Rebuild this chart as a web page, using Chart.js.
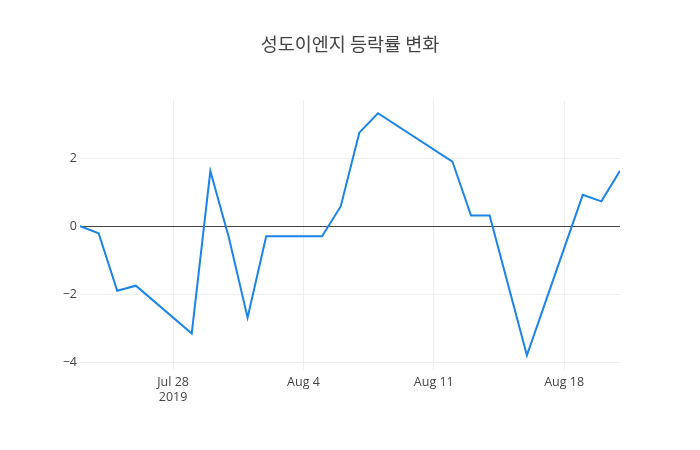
<!DOCTYPE html>
<html>
<head>
<meta charset="utf-8">
<script src="https://cdn.jsdelivr.net/npm/chart.js@4/dist/chart.umd.min.js"></script>
<style>
  html, body { margin: 0; padding: 0; background: #fff; }
  #wrap { width: 700px; height: 450px; position: relative; }
</style>
</head>
<body>
<div id="wrap"><canvas id="myChart"></canvas></div>
<script>
// 성도이엔지 daily change (%)
var titleText = '성도이엔지 등락률 변화';
var dates = ['2019-07-23', '2019-07-24', '2019-07-25', '2019-07-26', '2019-07-29', '2019-07-30',
             '2019-07-31', '2019-08-01', '2019-08-02', '2019-08-05', '2019-08-06', '2019-08-07',
             '2019-08-08', '2019-08-12', '2019-08-13', '2019-08-14', '2019-08-16', '2019-08-19',
             '2019-08-20', '2019-08-21'];
var changes = [0, -0.21, -1.90, -1.75, -3.16, 1.62,
               -0.35, -2.69, -0.30, -0.30, 0.58, 2.75,
               3.32, 1.90, 0.31, 0.31, -3.80, 0.92,
               0.73, 1.63];
var tickDates = ['2019-07-28', '2019-08-04', '2019-08-11', '2019-08-18'];
var tickLabels = [['Jul 28', '2019'], 'Aug 4', 'Aug 11', 'Aug 18'];
var yTicks = [-4, -2, 0, 2];

var startDay = Date.UTC(2019, 6, 23);
function dayNum(s) {
    var p = s.split('-');
    return (Date.UTC(+p[0], +p[1] - 1, +p[2]) - startDay) / 86400000;
}

var points = dates.map(function(d, i) { return { x: dayNum(d), y: changes[i] }; });
var xTickVals = tickDates.map(dayNum);

var titlePlugin = {
    id: 'plotTitle',
    afterDraw: function(chart) {
        var c = chart.ctx;
        c.save();
        c.font = '18.5px "Noto Sans CJK KR", "Open Sans", sans-serif';
        c.fillStyle = '#444';
        c.textAlign = 'center';
        c.textBaseline = 'middle';
        c.fillText(titleText, 350, 44);
        c.restore();
    }
};

var ctx = document.getElementById('myChart').getContext('2d');
var myChart = new Chart(ctx, {
    type: 'line',
    data: {
        datasets: [{
            data: points,
            borderColor: '#1a84e8',
            borderWidth: 2,
            pointRadius: 0,
            tension: 0,
            fill: false
        }]
    },
    options: {
        responsive: true,
        maintainAspectRatio: false,
        animation: false,
        layout: { padding: { top: 100, right: 80, left: 0, bottom: 0 } },
        plugins: {
            legend: { display: false },
            tooltip: { enabled: false }
        },
        scales: {
            x: {
                type: 'linear',
                min: 0,
                max: dayNum('2019-08-21'),
                afterBuildTicks: function(scale) {
                    scale.ticks = xTickVals.map(function(v) { return { value: v }; });
                },
                afterFit: function(scale) { scale.height = 80; },
                border: { display: false },
                grid: { color: '#eee', lineWidth: 1, drawTicks: false },
                ticks: {
                    color: '#444',
                    font: { family: '"Open Sans", sans-serif', size: 12.5 },
                    padding: 5,
                    maxRotation: 0,
                    callback: function(value) {
                        var i = xTickVals.indexOf(value);
                        return i >= 0 ? tickLabels[i] : '';
                    }
                }
            },
            y: {
                min: -4.23,
                max: 3.71,
                afterBuildTicks: function(scale) {
                    scale.ticks = yTicks.map(function(v) { return { value: v }; });
                },
                afterFit: function(scale) { scale.width = 80; },
                border: { display: false },
                grid: {
                    drawTicks: false,
                    color: function(c) { return c.tick && c.tick.value === 0 ? '#444' : '#eee'; },
                    lineWidth: 1
                },
                ticks: {
                    color: '#444',
                    font: { family: '"Open Sans", sans-serif', size: 12.5 },
                    padding: 3,
                    callback: function(value) {
                        return value < 0 ? '\u2212' + Math.abs(value) : String(value);
                    }
                }
            }
        }
    },
    plugins: [titlePlugin]
});
</script>
</body>
</html>
